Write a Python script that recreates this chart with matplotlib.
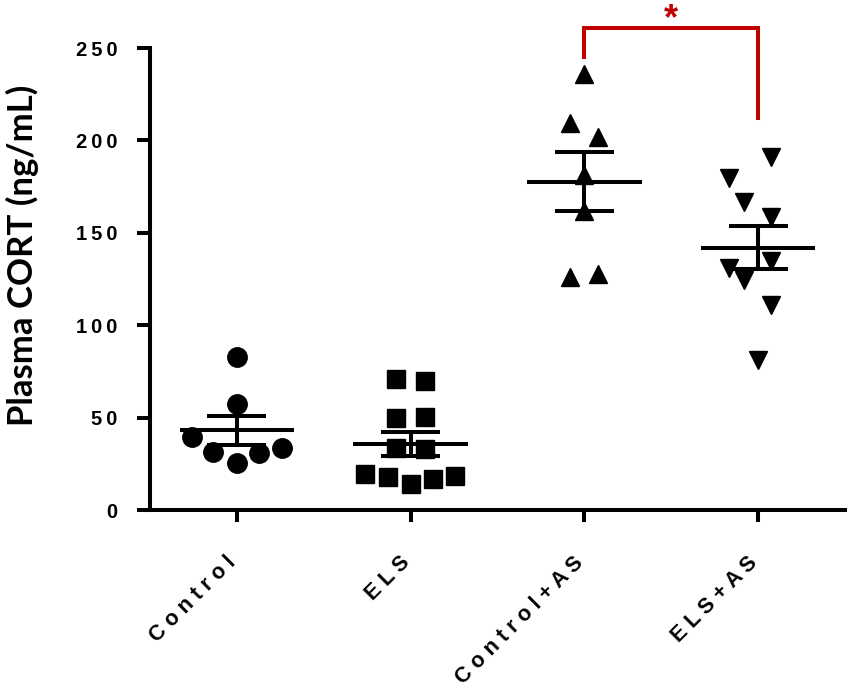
import numpy as np
import matplotlib
matplotlib.use("Agg")
import matplotlib.pyplot as plt

# ---- data ----
groups = ["Control", "ELS", "Control+AS", "ELS+AS"]

control = [83.0, 57.4, 39.7, 31.6, 25.6, 31.0, 33.4]
els = [70.7, 69.8, 49.6, 50.2, 33.4, 32.8, 19.5, 17.7, 14.1, 16.6, 18.6]
control_as = [235.9, 209.6, 201.7, 181.3, 162.0, 125.9, 127.7]
els_as = [191.2, 179.5, 166.8, 158.7, 134.7, 130.8, 124.5, 110.9, 81.2]

# horizontal scatter of the points around each group centre
control_jit = [0.0, 0.0, -0.26, -0.135, 0.0, 0.125, 0.26]
els_jit = [-0.083, 0.081, -0.083, 0.081, -0.083, 0.081, -0.26, -0.13, 0.0, 0.13, 0.255]
control_as_jit = [0.0, -0.081, 0.081, 0.0, 0.0, -0.081, 0.081]
els_as_jit = [0.075, -0.166, -0.083, 0.075, 0.075, -0.166, -0.083, 0.075, 0.0]

y_ticks = [0, 50, 100, 150, 200, 250]

values = [control, els, control_as, els_as]
jitters = [control_jit, els_jit, control_as_jit, els_as_jit]
markers = ["o", "s", "^", "v"]
msizes = [14, 13.5, 13.5, 13.5]

red = "#C00000"
lw = 2.9
thin = "\u2009"

fig = plt.figure(figsize=(8.5, 6.89), dpi=100)
ax = fig.add_axes([150 / 850, 1 - 510 / 689, 695 / 850, 462 / 689])

for i, (vals, jit, m, ms) in enumerate(zip(values, jitters, markers, msizes)):
    xc = i + 1
    vals = np.array(vals)
    ax.plot(xc + np.array(jit), vals, linestyle="none", marker=m, ms=ms,
            color="black", zorder=2, clip_on=False)
    mean = vals.mean()
    sem = vals.std(ddof=1) / np.sqrt(len(vals))
    # mean line and SEM bar
    ax.plot([xc - 0.33, xc + 0.33], [mean, mean], color="black", lw=lw,
            solid_capstyle="butt", zorder=3)
    ax.plot([xc, xc], [mean - sem, mean + sem], color="black", lw=lw,
            solid_capstyle="butt", zorder=3)
    for yy in (mean - sem, mean + sem):
        ax.plot([xc - 0.17, xc + 0.17], [yy, yy], color="black", lw=lw,
                solid_capstyle="butt", zorder=3)

# significance bracket
ax.plot([3, 3, 4, 4], [245.3, 260.8, 260.8, 212.1], color=red, lw=lw,
        solid_joinstyle="miter", clip_on=False, zorder=4)
ax.text(3.5, 265.5, "*", color=red, fontsize=26, fontweight="bold",
        ha="center", va="center", family="Liberation Sans")

ax.set_xlim(0.5, 4.5)
ax.set_ylim(0, 250)

for s in ("top", "right"):
    ax.spines[s].set_visible(False)
for s in ("left", "bottom"):
    ax.spines[s].set_linewidth(lw)

ax.set_yticks(y_ticks)
ax.set_yticklabels([thin.join(str(v)) for v in y_ticks],
                   fontsize=14.5, fontweight="bold", family="Liberation Sans")
ax.set_xticks(range(1, len(groups) + 1))
ax.set_xticklabels([" ".join(g) for g in groups], rotation=45, ha="right",
                   va="baseline", rotation_mode="anchor",
                   fontsize=15.5, fontweight="bold", family="Liberation Sans")
ax.tick_params(axis="y", length=9.4, width=lw, pad=14)
ax.tick_params(axis="x", length=8.6, width=lw, pad=30)

ax.set_ylabel("Plasma CORT (ng/mL)", fontsize=25, fontweight="bold",
              family="Lato", va="center")
ax.yaxis.set_label_coords(-0.184, 0.552)

fig.savefig("out.png", dpi=100)
